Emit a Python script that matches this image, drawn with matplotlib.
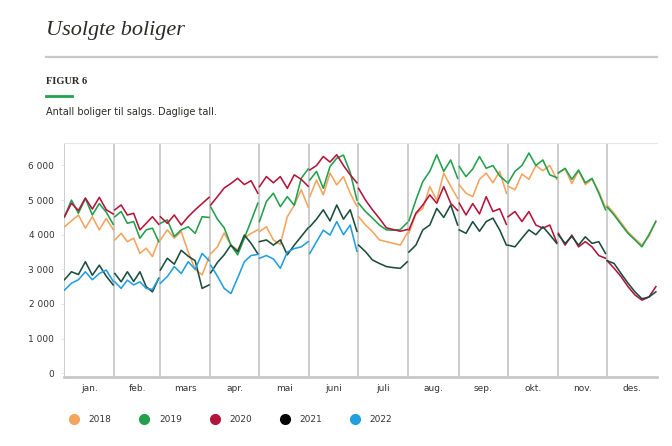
import numpy as np
import matplotlib.pyplot as plt
from matplotlib.lines import Line2D

# Month axis
months = ['jan.', 'feb.', 'mars', 'apr.', 'mai', 'juni', 'juli', 'aug.', 'sep.', 'okt.', 'nov.', 'des.']
month_days = [31, 28, 31, 30, 31, 30, 31, 31, 30, 31, 30, 31]
y_ticks = [0, 1000, 2000, 3000, 4000, 5000, 6000]
y_labels = ['0', '1 000', '2 000', '3 000', '4 000', '5 000', '6 000']

years = ['2018', '2019', '2020', '2021', '2022']
line_colors = ['#F4A45C', '#22A04C', '#B3153A', '#1B4D3E', '#219FDE']
legend_colors = ['#F4A45C', '#22A04C', '#B3153A', '#000000', '#219FDE']

# Unsold homes (8 readings per month)
v2018 = [
    [4230, 4400, 4570, 4190, 4520, 4140, 4470, 4150],
    [3850, 4040, 3800, 3900, 3460, 3610, 3370, 3850],
    [3850, 4140, 3900, 4090, 3500, 3000, 2840, 3350],
    [3450, 3650, 4050, 3700, 3560, 3900, 4040, 4140],
    [4090, 4230, 3850, 3720, 4520, 4850, 5300, 4800],
    [5100, 5580, 5150, 5780, 5440, 5680, 5200, 4820],
    [4520, 4280, 4090, 3850, 3800, 3750, 3700, 4050],
    [4050, 4600, 4760, 5390, 5000, 5780, 5400, 5050],
    [5440, 5200, 5100, 5600, 5780, 5500, 5830, 5200],
    [5400, 5300, 5750, 5600, 6000, 5850, 6000, 5600],
    [5800, 5900, 5480, 5850, 5450, 5600, 5250, 4780],
    [4850, 4620, 4350, 4080, 3880, 3700, 3950, 4400],
]
v2019 = [
    [4520, 5000, 4620, 5050, 4570, 4900, 4650, 4300],
    [4520, 4670, 4330, 4380, 3900, 4140, 4190, 3800],
    [4330, 4430, 3950, 4140, 4230, 4040, 4520, 4500],
    [4800, 4450, 4200, 3700, 3420, 3900, 4400, 4910],
    [4380, 4960, 5200, 4810, 5100, 4850, 5630, 5900],
    [5580, 5830, 5340, 5970, 6210, 6300, 5800, 5000],
    [4910, 4670, 4480, 4280, 4140, 4130, 4150, 4350],
    [4400, 5000, 5540, 5830, 6310, 5830, 6160, 5630],
    [5970, 5680, 5900, 6260, 5920, 6000, 5700, 5530],
    [5490, 5830, 6000, 6360, 6000, 6160, 5730, 5650],
    [5780, 5920, 5600, 5870, 5500, 5630, 5200, 4720],
    [4800, 4570, 4300, 4040, 3850, 3650, 4000, 4380],
]
v2020 = [
    [4520, 4910, 4700, 5060, 4740, 5080, 4720, 4600],
    [4720, 4860, 4570, 4620, 4140, 4330, 4520, 4300],
    [4520, 4330, 4570, 4280, 4520, 4720, 4900, 5080],
    [4860, 5100, 5350, 5480, 5630, 5450, 5560, 5200],
    [5390, 5680, 5500, 5680, 5340, 5730, 5600, 5400],
    [5870, 6000, 6260, 6100, 6310, 6000, 5730, 5500],
    [5340, 5000, 4720, 4470, 4200, 4150, 4100, 4150],
    [4140, 4620, 4860, 5150, 4910, 5390, 4910, 4700],
    [4910, 4570, 4900, 4600, 5100, 4670, 4750, 4300],
    [4520, 4670, 4380, 4670, 4280, 4190, 4280, 3780],
    [4040, 3700, 3990, 3650, 3800, 3650, 3400, 3320],
    [3250, 3030, 2790, 2500, 2260, 2110, 2200, 2500],
]
v2021 = [
    [2700, 2930, 2850, 3220, 2830, 3120, 2800, 2550],
    [2880, 2640, 2930, 2650, 2930, 2500, 2350, 2740],
    [2980, 3320, 3150, 3550, 3380, 3250, 2450, 2550],
    [2900, 3200, 3420, 3700, 3510, 3990, 3750, 3450],
    [3800, 3850, 3700, 3850, 3420, 3700, 3950, 4200],
    [4230, 4450, 4720, 4400, 4860, 4450, 4720, 4100],
    [3700, 3510, 3270, 3170, 3080, 3050, 3030, 3220],
    [3500, 3700, 4140, 4280, 4760, 4500, 4860, 4280],
    [4140, 4040, 4380, 4100, 4380, 4480, 4140, 3700],
    [3700, 3650, 3900, 4140, 4000, 4230, 4000, 3750],
    [4000, 3750, 3950, 3700, 3940, 3750, 3800, 3460],
    [3250, 3170, 2880, 2600, 2350, 2150, 2200, 2350],
]
v2022 = [
    [2400, 2600, 2700, 2930, 2700, 2880, 2980, 2650],
    [2640, 2450, 2690, 2550, 2640, 2450, 2420, 2740],
    [2600, 2790, 3080, 2880, 3220, 3000, 3460, 3250],
    [3120, 2800, 2450, 2300, 2750, 3220, 3400, 3430],
    [3320, 3400, 3300, 3030, 3500, 3600, 3650, 3800],
    [3460, 3800, 4130, 3990, 4380, 4000, 4280, 3520],
]
series = [v2018, v2019, v2020, v2021, v2022]

month_start = np.concatenate([[0], np.cumsum(month_days)])

fig = plt.figure(figsize=(6.72, 4.46), dpi=100)
ax = fig.add_axes([64 / 672, 1 - 377 / 446, 593 / 672, 234 / 446])

# each month is drawn as its own segment
for vals, col in zip(series, line_colors):
    for m, mv in enumerate(vals):
        xs = np.linspace(month_start[m] + 0.3, month_start[m + 1] - 0.7, len(mv))
        ax.plot(xs, mv, color=col, lw=1.15, solid_joinstyle='round')

for d in month_start[:-1]:
    ax.axvline(d, color='#c4c4c4', lw=1.2, zorder=0)

ax.set_xlim(0, 365)
ax.set_ylim(-110, 6650)
ax.set_yticks(y_ticks)
ax.set_yticklabels(y_labels)
centers = (month_start[:-1] + month_start[1:]) / 2
ax.set_xticks(centers)
ax.set_xticklabels(months)
ax.tick_params(axis='x', length=0, pad=5, labelsize=6.5, colors='#333333')
ax.tick_params(axis='y', length=2, width=0.6, color='#dddddd', pad=5, labelsize=6.5, labelcolor='#333333')

for s in ['left', 'right']:
    ax.spines[s].set_visible(False)
ax.spines['top'].set_color('#e6e6e6')
ax.spines['top'].set_linewidth(0.8)
ax.spines['bottom'].set_color('#c8c8c8')
ax.spines['bottom'].set_linewidth(2)

# header
fig.text(46 / 672, 1 - 30 / 446, 'Usolgte boliger', fontsize=16, style='italic',
         family='Liberation Serif', color='#2b2a25', va='center')
fig.add_artist(Line2D([46 / 672, 657 / 672], [1 - 57 / 446] * 2, color='#c8c8c8', lw=1.6))
fig.text(46 / 672, 1 - 82 / 446, 'FIGUR 6', fontsize=7.5, weight='bold',
         family='Liberation Serif', color='#2b2a25', va='center')
fig.add_artist(Line2D([46 / 672, 72 / 672], [1 - 96 / 446] * 2, color='#22A04C', lw=2))
fig.text(46 / 672, 1 - 112 / 446, 'Antall boliger til salgs. Daglige tall.', fontsize=7,
         family=['Liberation Sans Narrow', 'DejaVu Sans'], color='#2b2a25', va='center')

handles = [Line2D([], [], ls='none', marker='o', ms=7, color=c) for c in legend_colors]
fig.legend(handles, years, loc='center left', bbox_to_anchor=(57 / 672, 1 - 420 / 446),
           ncol=5, frameon=False, fontsize=6.5, handletextpad=0.6, columnspacing=2.65,
           labelcolor='#333333')

fig.savefig('out.png', dpi=100)
